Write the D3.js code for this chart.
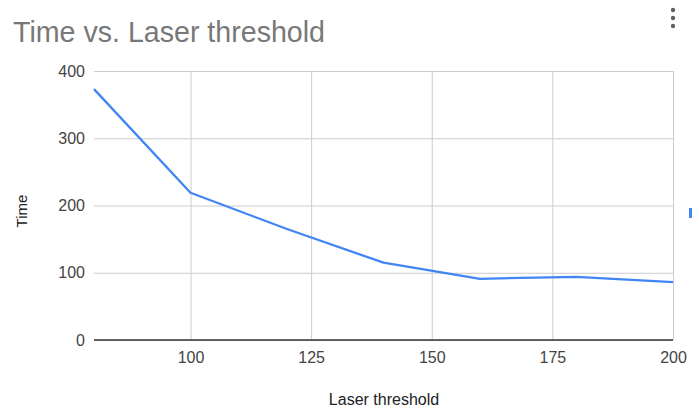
<!DOCTYPE html>
<html>
<head>
<meta charset="utf-8">
<script src="https://cdn.jsdelivr.net/npm/d3@7"></script>
<style>
  html, body { margin: 0; padding: 0; background: #fff; }
  svg { display: block; font-family: "Liberation Sans", Arial, sans-serif; }
</style>
</head>
<body>
<svg id="chart" width="699" height="409"></svg>
<script>
// Laser threshold settings and the measured time for each
const thresholds = [80, 100, 120, 140, 160, 180, 200];
const times = [373, 219, 165, 115, 91, 94, 86];
const xTicks = [100, 125, 150, 175, 200];
const yTicks = [0, 100, 200, 300, 400];

const svg = d3.select("#chart");
const W = 699, H = 409;
const m = { left: 94, right: 26, top: 71, bottom: 69 };
const FONT = "Liberation Sans, Arial, sans-serif";

const x = d3.scaleLinear().domain([80, 200]).range([m.left, W - m.right]);
const y = d3.scaleLinear().domain([0, 400]).range([H - m.bottom, m.top]);

// Title
svg.append("text")
  .attr("x", 13).attr("y", 41.5)
  .attr("fill", "#787878")
  .attr("font-size", 29)
  .attr("textLength", 312)
  .attr("lengthAdjust", "spacingAndGlyphs")
  .text("Time vs. Laser threshold");

// Overflow menu dots
svg.selectAll("circle.menu").data([10, 18, 26]).join("circle")
  .attr("class", "menu")
  .attr("cx", 673).attr("cy", d => d).attr("r", 2.2)
  .attr("fill", "#616161");

// Horizontal gridlines and y labels
const yAxis = d3.axisLeft(y).tickValues(yTicks).tickSize(-(W - m.left - m.right)).tickPadding(9);
const gy = svg.append("g").attr("transform", `translate(${m.left},0)`).call(yAxis);
gy.select(".domain").remove();
gy.selectAll(".tick line").attr("stroke", "#cccccc").attr("stroke-width", 1);
gy.selectAll(".tick text").attr("fill", "#444").attr("font-size", 16).attr("font-family", FONT);

// Vertical gridlines and x labels
const xAxis = d3.axisBottom(x).tickValues(xTicks).tickSize(-(H - m.top - m.bottom)).tickPadding(12);
const gx = svg.append("g").attr("transform", `translate(0,${H - m.bottom})`).call(xAxis);
gx.select(".domain").remove();
gx.selectAll(".tick line").attr("stroke", "#cccccc").attr("stroke-width", 1);
gx.selectAll(".tick text").attr("fill", "#444").attr("font-size", 16).attr("font-family", FONT);

// Baseline
svg.append("line")
  .attr("x1", m.left).attr("x2", W - m.right)
  .attr("y1", y(0)).attr("y2", y(0))
  .attr("stroke", "#333").attr("stroke-width", 1.3);

// Series line
const line = d3.line().x((d, i) => x(thresholds[i])).y(d => y(d));
svg.append("path")
  .datum(times)
  .attr("d", line)
  .attr("fill", "none")
  .attr("stroke", "#4285f4")
  .attr("stroke-width", 2.3)
  .attr("stroke-linejoin", "round");

// Axis titles
svg.append("text")
  .attr("x", 384).attr("y", 405)
  .attr("text-anchor", "middle")
  .attr("fill", "#222").attr("font-size", 16)
  .text("Laser threshold");

svg.append("text")
  .attr("transform", "translate(27,211) rotate(-90)")
  .attr("text-anchor", "middle")
  .attr("fill", "#222").attr("font-size", 15)
  .text("Time");

// Clipped legend marker at the right edge
svg.append("rect")
  .attr("x", 689).attr("y", 208).attr("width", 3).attr("height", 10)
  .attr("fill", "#4285f4");
</script>
</body>
</html>
